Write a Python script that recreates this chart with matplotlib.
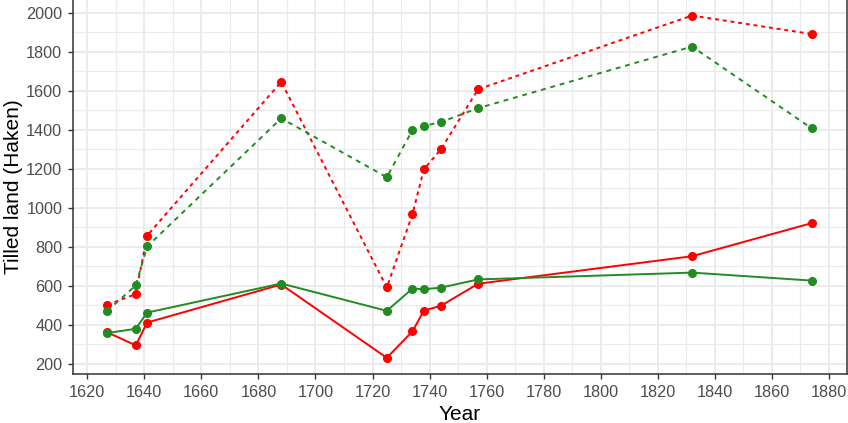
import numpy as np
import matplotlib.pyplot as plt
from matplotlib.ticker import MultipleLocator

plt.rcParams['font.family'] = ['Liberation Sans', 'DejaVu Sans']

years = [1627, 1637, 1641, 1688, 1725, 1734, 1738, 1744, 1757, 1832, 1874]

# dotted series
red_dashed = [502, 557, 857, 1645, 591, 967, 1197, 1300, 1607, 1985, 1890]
green_dashed = [471, 601, 801, 1458, 1156, 1398, 1419, 1439, 1510, 1826, 1406]
# solid series
red_solid = [361, 294, 411, 606, 230, 366, 472, 497, 610, 751, 921]
green_solid = [357, 379, 462, 611, 471, 585, 582, 590, 632, 667, 626]

RED = '#FF0000'
GREEN = '#228B22'

fig = plt.figure(figsize=(8.48, 4.23), dpi=100)
W, H = 848, 423
left, right, bottom, top = 72.7, 846.7, 374.3, -1.5
ax = fig.add_axes([left / W, (H - bottom) / H, (right - left) / W, (bottom - top) / H])

ax.plot(years, red_dashed, color=RED, lw=1.4, ls=(0, (2, 2)), marker='o', ms=5.5, zorder=3)
ax.plot(years, green_dashed, color=GREEN, lw=1.4, ls=(0, (2.5, 2.5)), marker='o', ms=5.5, zorder=3)
ax.plot(years, red_solid, color=RED, lw=1.4, marker='o', ms=5.5, zorder=3)
ax.plot(years, green_solid, color=GREEN, lw=1.4, marker='o', ms=5.5, zorder=3)

ax.set_xlim(1614.9, 1886.2)
ax.set_ylim(145.6, 2072.4)

ax.xaxis.set_major_locator(MultipleLocator(20))
ax.xaxis.set_minor_locator(MultipleLocator(10))
ax.yaxis.set_major_locator(MultipleLocator(200))
ax.yaxis.set_minor_locator(MultipleLocator(100))

ax.grid(which='major', color='#EBEBEB', lw=1.4, zorder=0)
ax.grid(which='minor', color='#EBEBEB', lw=0.9, zorder=0)
ax.set_axisbelow(True)

for s in ax.spines.values():
    s.set_color('#333333')
    s.set_linewidth(1.1)

ax.tick_params(which='major', length=3.5, width=1.0, color='#333333',
               labelcolor='#4D4D4D', labelsize=11.7, pad=4)
ax.tick_params(which='minor', length=0)

ax.set_xlabel('Year', fontsize=15, color='black', labelpad=4)
ax.set_ylabel('Tilled land (Haken)', fontsize=15, color='black', labelpad=2)

fig.savefig('out.png', dpi=100)
